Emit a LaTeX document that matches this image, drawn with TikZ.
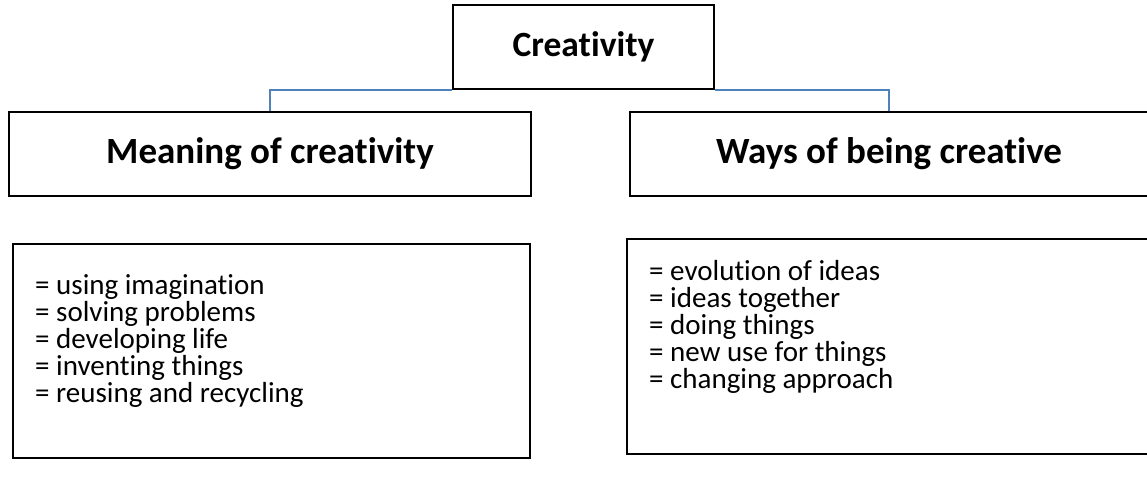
\documentclass[tikz,border=0pt]{standalone}
\usepackage{fontspec}
\setmainfont{Carlito}[Ligatures=NoCommon]
\definecolor{linkblue}{HTML}{4F81BD}
\begin{document}
\begin{tikzpicture}
[
    x=1pt, y=-1pt,
    head/.style={draw, line width=2pt, inner sep=0pt, font=\bfseries\fontsize{37}{40}\selectfont},
    listbox/.style={draw, line width=2pt, inner sep=0pt},
    listtext/.style={anchor=north west, align=left, inner sep=0pt, font=\fontsize{29}{27}\selectfont},
    link/.style={draw=linkblue, line width=2pt},
]
\useasboundingbox (0,0) rectangle (1147,482);
\node[head, minimum width=261pt, minimum height=84pt, font=\bfseries\fontsize{35.5}{40}\selectfont] (top) at (583.5,47) {Creativity};
\node[head, minimum width=522pt, minimum height=84pt] (mean) at (270,154) {Meaning of creativity};
\node[head, minimum width=518pt, minimum height=84pt] (ways) at (889,154) {Ways of being creative};
\node[listbox, minimum width=517pt, minimum height=214pt] (meanbox) at (271.5,351) {};
\node[listbox, minimum width=521pt, minimum height=215pt] (waysbox) at (887.5,346.5) {};
\node[listtext] (meanlist) at (35,274) {= using imagination\\ = solving problems\\ = developing life\\
    = inventing things\\ = reusing and recycling};
\node[listtext] (wayslist) at (649,260) {= evolution of ideas\\ = ideas together\\ = doing things\\
    = new use for things\\ = changing approach};
\draw[link] (top.south west) -| (mean.north);
\draw[link] (top.south east) -| (ways.north);
\end{tikzpicture}
\end{document}
